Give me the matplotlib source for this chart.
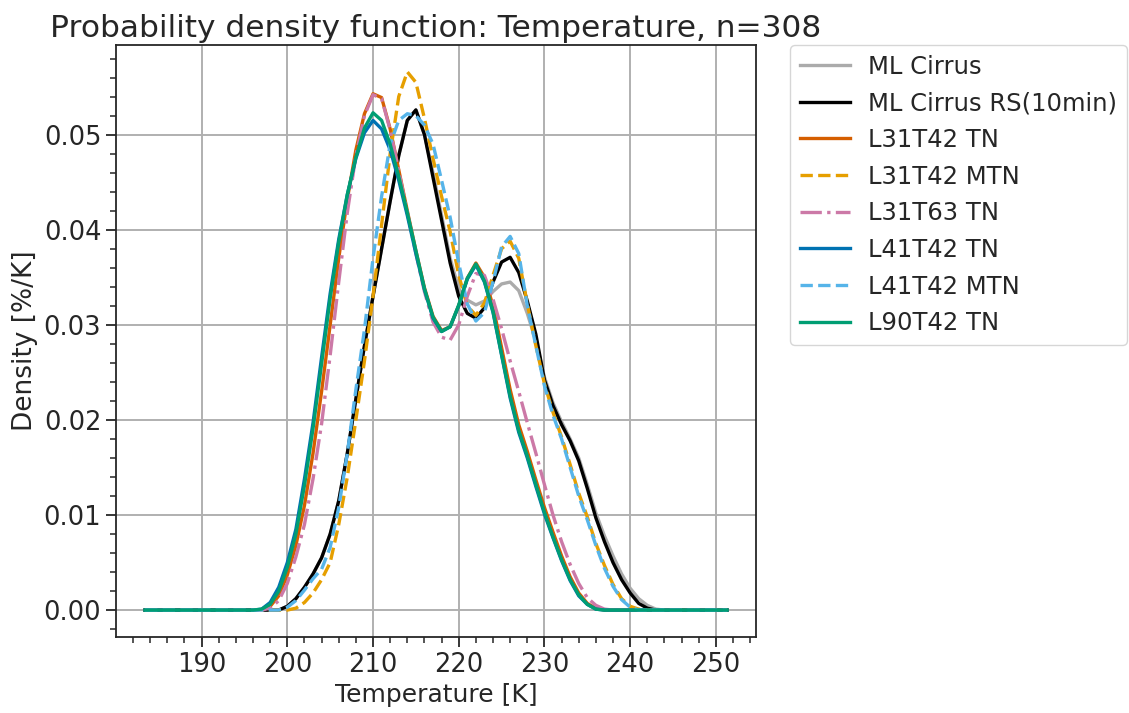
import numpy as np
import matplotlib
matplotlib.use("Agg")
import matplotlib.pyplot as plt

# temperature grid [K]
TEMP = [183.4] + list(range(196, 245)) + [251.3]

# density values, one per TEMP point
ml_cirrus = [0,
    0, 0, 0, 0, 0.0004, 0.0012, 0.0024, 0.0038, 0.0055, 0.0080,
    0.0115, 0.0165, 0.0222, 0.0278, 0.0330, 0.0380, 0.0430, 0.0478, 0.0515, 0.0526,
    0.0500, 0.0460, 0.0415, 0.0370, 0.0338, 0.0326, 0.0321, 0.0325, 0.0335, 0.0343,
    0.0345, 0.0336, 0.0312, 0.0283, 0.0245, 0.0218, 0.0198, 0.0180, 0.0160, 0.0132,
    0.0102, 0.0078, 0.0057, 0.0038, 0.0023, 0.0012, 0.0005, 0.0001, 0,
    0]
ml_cirrus_rs = [0,
    0, 0, 0, 0, 0.0004, 0.0012, 0.0024, 0.0038, 0.0055, 0.0080,
    0.0115, 0.0165, 0.0222, 0.0278, 0.0330, 0.0380, 0.0430, 0.0478, 0.0515, 0.0526,
    0.0500, 0.0455, 0.0410, 0.0365, 0.0330, 0.0312, 0.0307, 0.0318, 0.0345, 0.0366,
    0.0371, 0.0355, 0.0325, 0.0290, 0.0242, 0.0215, 0.0195, 0.0178, 0.0157, 0.0128,
    0.0097, 0.0072, 0.0050, 0.0032, 0.0018, 0.0007, 0.0002, 0, 0,
    0]
l31t42_tn = [0,
    0, 0, 0.0004, 0.0015, 0.0037, 0.0068, 0.0110, 0.0165, 0.0230, 0.0300,
    0.0370, 0.0432, 0.0484, 0.0522, 0.0543, 0.0539, 0.0506, 0.0463, 0.0420, 0.0378,
    0.0339, 0.0309, 0.0294, 0.0298, 0.0320, 0.0349, 0.0365, 0.0350, 0.0320, 0.0276,
    0.0232, 0.0195, 0.0167, 0.0137, 0.0108, 0.0082, 0.0057, 0.0035, 0.0018, 0.0007,
    0.0002, 0, 0, 0, 0, 0, 0, 0, 0,
    0]
l31t42_mtn = [0,
    0, 0, 0, 0, 0, 0.0002, 0.0008, 0.0018, 0.0032, 0.0050,
    0.0090, 0.0140, 0.0200, 0.0262, 0.0330, 0.0405, 0.0480, 0.0540, 0.0566, 0.0555,
    0.0517, 0.0475, 0.0435, 0.0398, 0.0352, 0.0320, 0.0310, 0.0323, 0.0352, 0.0380,
    0.0388, 0.0370, 0.0322, 0.0278, 0.0238, 0.0208, 0.0182, 0.0153, 0.0123, 0.0098,
    0.0070, 0.0047, 0.0027, 0.0012, 0.0004, 0.0001, 0, 0, 0,
    0]
l31t63_tn = [0,
    0, 0, 0.0002, 0.0010, 0.0028, 0.0056, 0.0090, 0.0138, 0.0196, 0.0268,
    0.0345, 0.0418, 0.0478, 0.0520, 0.0542, 0.0538, 0.0505, 0.0462, 0.0418, 0.0375,
    0.0335, 0.0303, 0.0287, 0.0284, 0.0300, 0.0330, 0.0354, 0.0352, 0.0327, 0.0296,
    0.0262, 0.0230, 0.0197, 0.0165, 0.0132, 0.0100, 0.0072, 0.0048, 0.0028, 0.0013,
    0.0005, 0.0001, 0, 0, 0, 0, 0, 0, 0,
    0]
l41t42_tn = [0,
    0, 0.0001, 0.0008, 0.0024, 0.0050, 0.0085, 0.0138, 0.0197, 0.0266, 0.0333,
    0.0390, 0.0437, 0.0475, 0.0502, 0.0515, 0.0506, 0.0484, 0.0452, 0.0415, 0.0375,
    0.0337, 0.0307, 0.0293, 0.0298, 0.0320, 0.0348, 0.0363, 0.0345, 0.0313, 0.0268,
    0.0223, 0.0187, 0.0160, 0.0130, 0.0101, 0.0076, 0.0052, 0.0031, 0.0015, 0.0006,
    0.0001, 0, 0, 0, 0, 0, 0, 0, 0,
    0]
l41t42_mtn = [0,
    0, 0, 0, 0, 0.0003, 0.0010, 0.0021, 0.0033, 0.0043, 0.0066,
    0.0108, 0.0165, 0.0232, 0.0295, 0.0370, 0.0435, 0.0490, 0.0515, 0.0522, 0.0520,
    0.0510, 0.0490, 0.0452, 0.0413, 0.0365, 0.0322, 0.0304, 0.0313, 0.0345, 0.0382,
    0.0393, 0.0375, 0.0320, 0.0278, 0.0236, 0.0205, 0.0180, 0.0150, 0.0120, 0.0095,
    0.0068, 0.0044, 0.0025, 0.0011, 0.0003, 0, 0, 0, 0,
    0]
l90t42_tn = [0,
    0, 0.0001, 0.0006, 0.0020, 0.0045, 0.0080, 0.0131, 0.0191, 0.0259, 0.0328,
    0.0387, 0.0437, 0.0476, 0.0507, 0.0523, 0.0515, 0.0490, 0.0456, 0.0418, 0.0378,
    0.0338, 0.0308, 0.0293, 0.0298, 0.0321, 0.0349, 0.0364, 0.0346, 0.0314, 0.0269,
    0.0225, 0.0189, 0.0162, 0.0132, 0.0103, 0.0077, 0.0053, 0.0032, 0.0016, 0.0006,
    0.0001, 0, 0, 0, 0, 0, 0, 0, 0,
    0]

series = [
    ("ML Cirrus", ml_cirrus, "#ababab", "-"),
    ("ML Cirrus RS(10min)", ml_cirrus_rs, "black", "-"),
    ("L31T42 TN", l31t42_tn, "#D55E00", "-"),
    ("L31T42 MTN", l31t42_mtn, "#E69F00", "--"),
    ("L31T63 TN", l31t63_tn, "#CC79A7", "-."),
    ("L41T42 TN", l41t42_tn, "#0072B2", "-"),
    ("L41T42 MTN", l41t42_mtn, "#56B4E9", "--"),
    ("L90T42 TN", l90t42_tn, "#009E73", "-"),
]

TXT = "#262626"

fig = plt.figure(figsize=(11.29, 7.13), dpi=100)
ax = fig.add_axes([0.1027, 0.1066, 0.567, 0.8303])

for name, vals, col, ls in series:
    ax.plot(TEMP, vals, color=col, linestyle=ls, linewidth=2.4, label=name)

ax.minorticks_on()
ax.grid(True, which="major", color="#b0b0b0", linewidth=1.4)
ax.tick_params(which="major", labelsize=18.5, length=7, width=1.3, colors=TXT)
ax.tick_params(which="minor", length=4, width=1.1, colors=TXT)
for sp in ax.spines.values():
    sp.set_linewidth(1.3)
    sp.set_color(TXT)
ax.set_xlabel("Temperature [K]", fontsize=18, color=TXT)
ax.set_ylabel("Density [%/K]", fontsize=19, color=TXT)
ax.set_title("Probability density function: Temperature, n=308", fontsize=22.5, color=TXT)

leg = ax.legend(loc="upper left", bbox_to_anchor=(1.053, 1.0), borderaxespad=0,
                fontsize=17.5, handlelength=2.05, handletextpad=0.75,
                labelspacing=0.52)
for t in leg.get_texts():
    t.set_color(TXT)

fig.savefig("out.png", dpi=100)
